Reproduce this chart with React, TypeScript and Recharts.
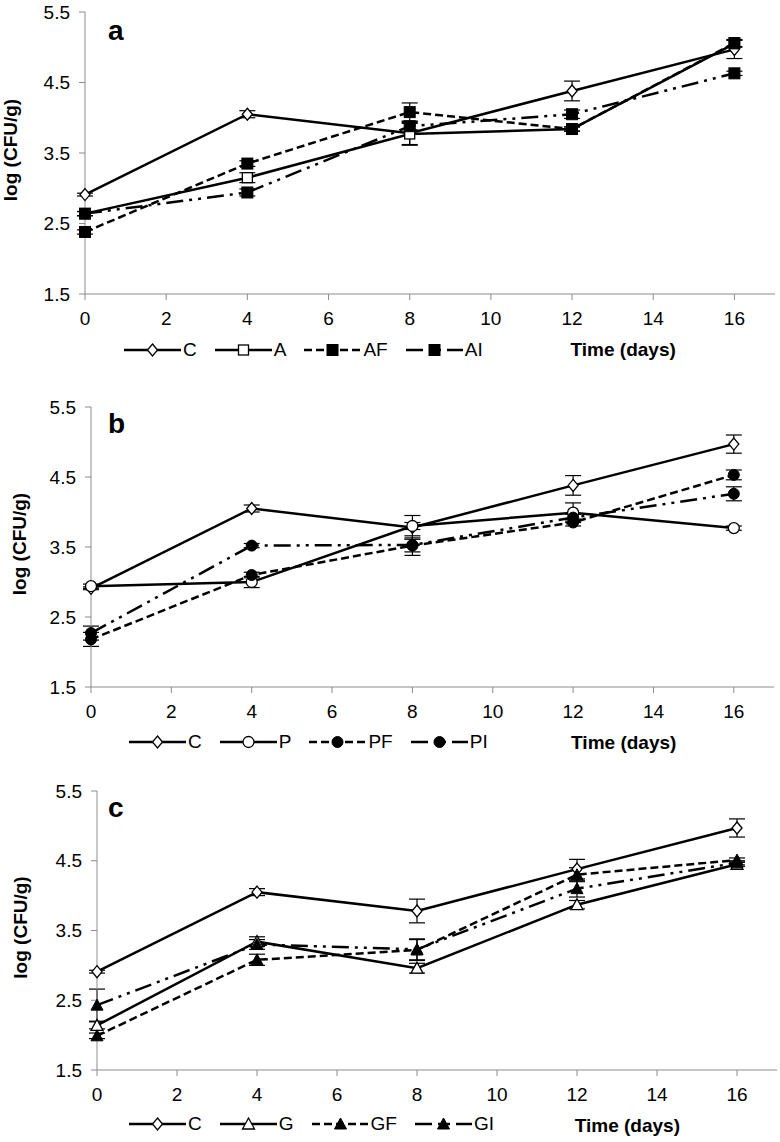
import * as React from 'react';

import { LineChart, Line, XAxis, YAxis, ErrorBar, Legend } from 'recharts';

// sampling days and axis ticks
const days = [0, 4, 8, 12, 16];
const xTicks = [0, 2, 4, 6, 8, 10, 12, 14, 16];
const yTicks = [1.5, 2.5, 3.5, 4.5, 5.5];

// control (same in all three panels)
const cVals = [2.91, 4.05, 3.78, 4.38, 4.97];
const cErr = [0.02, 0.05, 0.17, 0.14, 0.13];

// panel a
const aVals = [2.64, 3.15, 3.77, 3.84, 5.05];
const aErr = [0.03, 0.07, 0.15, 0.03, 0.05];
const afVals = [2.38, 3.35, 4.08, 3.84, 5.06];
const afErr = [0.03, 0.04, 0.13, 0.03, 0.05];
const aiVals = [2.64, 2.94, 3.88, 4.05, 4.63];
const aiErr = [0.03, 0.05, 0.05, 0.06, 0.03];

// panel b
const pVals = [2.94, 3.0, 3.8, 3.99, 3.77];
const pErr = [0.03, 0.08, 0.05, 0.14, 0.03];
const pfVals = [2.18, 3.1, 3.52, 3.85, 4.53];
const pfErr = [0.1, 0.04, 0.14, 0.05, 0.07];
const piVals = [2.27, 3.52, 3.53, 3.92, 4.26];
const piErr = [0.1, 0.03, 0.1, 0.05, 0.1];

// panel c
const gVals = [2.14, 3.34, 2.96, 3.87, 4.45];
const gErr = [0.05, 0.07, 0.07, 0.06, 0.03];
const gfVals = [1.99, 3.08, 3.22, 4.3, 4.51];
const gfErr = [0.04, 0.08, 0.15, 0.1, 0.03];
const giVals = [2.43, 3.3, 3.23, 4.1, 4.47];
const giErr = [0.23, 0.07, 0.15, 0.12, 0.03];

type Shape =
  | 'diamond'
  | 'squareOpen'
  | 'square'
  | 'circleOpen'
  | 'circle'
  | 'triangleOpen'
  | 'triangle';

interface Series {
  name: string;
  vals: number[];
  errs: number[];
  shape: Shape;
  dash?: string;
}

const DASHED = '8 4';
const DASH_DOT_DOT = '17 6 3 6 3 6';

const seriesA: Series[] = [
  { name: 'C', vals: cVals, errs: cErr, shape: 'diamond' },
  { name: 'A', vals: aVals, errs: aErr, shape: 'squareOpen' },
  { name: 'AF', vals: afVals, errs: afErr, shape: 'square', dash: DASHED },
  { name: 'AI', vals: aiVals, errs: aiErr, shape: 'square', dash: DASH_DOT_DOT },
];

const seriesB: Series[] = [
  { name: 'C', vals: cVals, errs: cErr, shape: 'diamond' },
  { name: 'P', vals: pVals, errs: pErr, shape: 'circleOpen' },
  { name: 'PF', vals: pfVals, errs: pfErr, shape: 'circle', dash: DASHED },
  { name: 'PI', vals: piVals, errs: piErr, shape: 'circle', dash: DASH_DOT_DOT },
];

const seriesC: Series[] = [
  { name: 'C', vals: cVals, errs: cErr, shape: 'diamond' },
  { name: 'G', vals: gVals, errs: gErr, shape: 'triangleOpen' },
  { name: 'GF', vals: gfVals, errs: gfErr, shape: 'triangle', dash: DASHED },
  { name: 'GI', vals: giVals, errs: giErr, shape: 'triangle', dash: DASH_DOT_DOT },
];

const Marker = ({ shape, cx, cy }: { shape: Shape; cx: number; cy: number }) => {
  const open = { fill: '#fff', stroke: '#000', strokeWidth: 1.3 };
  const solid = { fill: '#000', stroke: '#000', strokeWidth: 1 };
  switch (shape) {
    case 'diamond':
      return (
        <polygon
          points={`${cx},${cy - 6} ${cx + 5},${cy} ${cx},${cy + 6} ${cx - 5},${cy}`}
          {...open}
        />
      );
    case 'squareOpen':
      return <rect x={cx - 5} y={cy - 5} width={10} height={10} {...open} />;
    case 'square':
      return <rect x={cx - 5.5} y={cy - 5.5} width={11} height={11} {...solid} />;
    case 'circleOpen':
      return <circle cx={cx} cy={cy} r={5.5} {...open} />;
    case 'circle':
      return <circle cx={cx} cy={cy} r={5.5} {...solid} />;
    case 'triangleOpen':
      return (
        <polygon
          points={`${cx},${cy - 6} ${cx + 6},${cy + 5} ${cx - 6},${cy + 5}`}
          {...open}
        />
      );
    default:
      return (
        <polygon
          points={`${cx},${cy - 6} ${cx + 6},${cy + 5} ${cx - 6},${cy + 5}`}
          {...solid}
        />
      );
  }
};

const dotFor = (shape: Shape) => (props: any) => {
  const { cx, cy, index } = props;
  if (cx == null || cy == null) return <g key={`d-${index}`} />;
  return (
    <g key={`d-${index}`}>
      <Marker shape={shape} cx={cx} cy={cy} />
    </g>
  );
};

const LegendRow = ({ series }: { series: Series[] }) => (
  <div style={{ display: 'flex', alignItems: 'center', fontSize: 19, lineHeight: '24px' }}>
    {series.map((s) => (
      <div key={s.name} style={{ display: 'flex', alignItems: 'center', marginRight: 18 }}>
        <svg width={57} height={16}>
          <line
            x1={0}
            x2={57}
            y1={8}
            y2={8}
            stroke="#000"
            strokeWidth={2.5}
            strokeDasharray={s.dash}
          />
          <Marker shape={s.shape} cx={28.5} cy={8} />
        </svg>
        <span style={{ marginLeft: 2 }}>{s.name}</span>
      </div>
    ))}
  </div>
);

interface PanelProps {
  letter: string;
  series: Series[];
  top: number;
  height: number;
  margin: { top: number; right: number; bottom: number; left: number };
  yLabelX: number;
  letterY: number;
  legendLeft: number;
  legendTop: number;
}

const AXIS_GREY = '#8c8c8c';

const Panel = ({
  letter,
  series,
  top,
  height,
  margin,
  yLabelX,
  letterY,
  legendLeft,
  legendTop,
}: PanelProps) => {
  const rows = days.map((d, i) => {
    const row: Record<string, number> = { day: d };
    series.forEach((s, k) => {
      row[`s${k}`] = s.vals[i];
      row[`e${k}`] = s.errs[i];
    });
    return row;
  });

  return (
    <div style={{ position: 'absolute', left: 0, top, width: 780, height }}>
      <LineChart width={780} height={height} data={rows} margin={margin}>
        <XAxis
          dataKey="day"
          type="number"
          domain={[0, 17]}
          ticks={xTicks}
          height={30}
          stroke={AXIS_GREY}
          tickSize={6}
          tickMargin={12}
          tick={{ fill: '#000', fontSize: 19 }}
          label={{
            content: (p: any) => {
              const vb = p.viewBox;
              return (
                <text
                  x={vb.x + vb.width * 0.78}
                  y={vb.y + 62}
                  textAnchor="middle"
                  fontWeight="bold"
                  fontSize={19}
                  fill="#000"
                >
                  Time (days)
                </text>
              );
            },
          }}
        />
        <YAxis
          domain={[1.5, 5.5]}
          ticks={yTicks}
          width={60}
          stroke={AXIS_GREY}
          tickSize={6}
          tickMargin={9}
          tick={{ fill: '#000', fontSize: 19 }}
          label={{
            content: (p: any) => {
              const vb = p.viewBox;
              const cy = vb.y + vb.height / 2 - 3;
              return (
                <g>
                  <text
                    x={yLabelX}
                    y={cy}
                    transform={`rotate(-90 ${yLabelX} ${cy})`}
                    textAnchor="middle"
                    fontWeight="bold"
                    fontSize={19}
                    fill="#000"
                  >
                    log (CFU/g)
                  </text>
                  <text x={108} y={letterY} fontWeight="bold" fontSize={28} fill="#000">
                    {letter}
                  </text>
                </g>
              );
            },
          }}
        />
        <Legend
          layout="horizontal"
          verticalAlign="middle"
          align="center"
          wrapperStyle={{ left: legendLeft, top: legendTop, width: 'auto' }}
          content={() => <LegendRow series={series} />}
        />
        {series.map((s, k) => (
          <Line
            key={s.name}
            type="linear"
            dataKey={`s${k}`}
            name={s.name}
            stroke="#000"
            strokeWidth={2.5}
            strokeDasharray={s.dash}
            dot={dotFor(s.shape)}
            activeDot={false}
            isAnimationActive={false}
          >
            <ErrorBar
              dataKey={`e${k}`}
              width={8}
              strokeWidth={1.2}
              stroke="#000"
              isAnimationActive={false}
            />
          </Line>
        ))}
      </LineChart>
    </div>
  );
};

const App = () => (
  <div
    style={{
      position: 'absolute',
      left: 0,
      top: 0,
      width: 780,
      height: 1142,
      background: '#fff',
      fontFamily: '"Liberation Sans", Arial, sans-serif',
      overflow: 'hidden',
    }}
  >
    <Panel
      letter="a"
      series={seriesA}
      top={0}
      height={370}
      margin={{ top: 12, right: 5, bottom: 46, left: 25 }}
      yLabelX={17}
      letterY={40}
      legendLeft={124}
      legendTop={338}
    />
    <Panel
      letter="b"
      series={seriesB}
      top={380}
      height={380}
      margin={{ top: 27, right: 6, bottom: 43, left: 31 }}
      yLabelX={26}
      letterY={53}
      legendLeft={129}
      legendTop={350}
    />
    <Panel
      letter="c"
      series={seriesC}
      top={762}
      height={380}
      margin={{ top: 29, right: 3, bottom: 42, left: 37 }}
      yLabelX={27}
      letterY={55}
      legendLeft={129}
      legendTop={350}
    />
  </div>
);

export default App;
